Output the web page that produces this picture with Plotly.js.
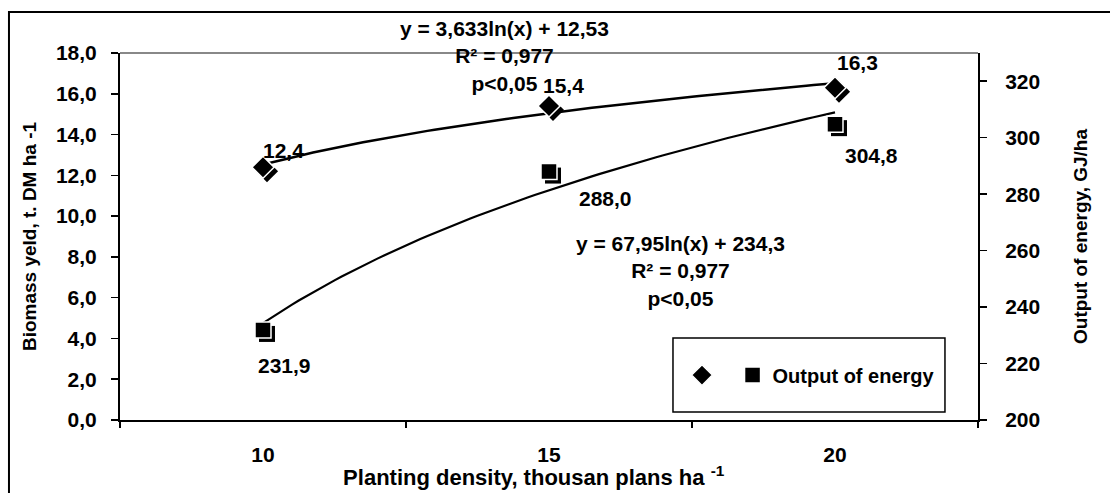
<!DOCTYPE html>
<html>
<head>
<meta charset="utf-8">
<script src="https://cdn.plot.ly/plotly-3.0.1.min.js"></script>
<style>html,body{margin:0;padding:0;background:#fff;}#chart{width:1110px;height:493px;}</style>
</head>
<body>
<div id="chart"></div>
<script>
// ---- data ----
var density = [10, 15, 20];                 // planting density, thousand plants/ha
var densityLabels = ['10', '15', '20'];
var biomassYield = [12.4, 15.4, 16.3];      // t DM/ha (left axis)
var energyOutput = [231.9, 288.0, 304.8];   // GJ/ha (right axis)
var leftTicks = [0, 2, 4, 6, 8, 10, 12, 14, 16, 18];
var rightTicks = [200, 220, 240, 260, 280, 300, 320];
var boundaryTicks = [7.5, 12.5, 17.5, 22.5];
// logarithmic trend lines as printed on the chart: y = a*ln(x) + b, x = category index 1..3
var trendBiomass = [3.633, 12.53];
var trendEnergy = [67.95, 234.3];
var trendBiomassText = ['3,633', '12,53'];
var trendEnergyText = ['67,95', '234,3'];
var r2Text = ['0,977', '0,977'];
var pText = ['p<0,05', 'p<0,05'];

// axis ranges and plot geometry
var xRange = [7.5, 22.5], yRange = [0, 18], y2Range = [200, 330];
var W = 1110, H = 493, M = {l: 120, r: 132, t: 53, b: 73};
var plotW = W - M.l - M.r, plotH = H - M.t - M.b;
var SH = 4; // marker drop-shadow offset in px
function shiftX(r, px) { var d = px * (r[1] - r[0]) / plotW; return [r[0] - d, r[1] - d]; }
function shiftY(r, px) { var d = px * (r[1] - r[0]) / plotH; return [r[0] + d, r[1] + d]; }

function trendCurve(c) {
  var xs = [], yv = [];
  var step = density[1] - density[0];
  for (var k = 0; k <= 80; k++) {
    var d = density[0] + (density[density.length - 1] - density[0]) * k / 80;
    var idx = (d - density[0]) / step + 1;
    xs.push(d); yv.push(c[0] * Math.log(idx) + c[1]);
  }
  return {x: xs, y: yv};
}
var tB = trendCurve(trendBiomass), tE = trendCurve(trendEnergy);

function fmt(v) { return v.toFixed(1).replace('.', ','); }

var FONT = 'Liberation Sans, Arial, sans-serif';
function f(sz) { return {family: FONT, size: sz, color: '#000', weight: 'bold'}; }

var traces = [
  {x: tB.x, y: tB.y, mode: 'lines', line: {color: '#000', width: 2.5}, showlegend: false, hoverinfo: 'skip', xaxis: 'x', yaxis: 'y'},
  {x: tE.x, y: tE.y, mode: 'lines', line: {color: '#000', width: 2.2}, showlegend: false, hoverinfo: 'skip', xaxis: 'x', yaxis: 'y2'},
  {x: density, y: [null, null, null], mode: 'markers', showlegend: false, hoverinfo: 'skip', xaxis: 'x2', yaxis: 'y'},
  // shadows
  {x: density, y: biomassYield, mode: 'markers', showlegend: false, hoverinfo: 'skip', marker: {symbol: 'diamond', size: 17, color: '#000'}, xaxis: 'x3', yaxis: 'y3'},
  {x: density, y: energyOutput, mode: 'markers', showlegend: false, hoverinfo: 'skip', marker: {symbol: 'square', size: 16, color: '#000'}, xaxis: 'x3', yaxis: 'y4'},
  // main markers
  {x: density, y: biomassYield, mode: 'markers', name: ' ', marker: {symbol: 'diamond', size: 17, color: '#000', line: {color: '#fff', width: 1.5}}, xaxis: 'x4', yaxis: 'y5'},
  {x: density, y: energyOutput, mode: 'markers', name: 'Output of energy', marker: {symbol: 'square', size: 16, color: '#000', line: {color: '#fff', width: 1.5}}, xaxis: 'x4', yaxis: 'y6'}
];

var bShift = [[20, 17], [14, 21], [22, 25]];
var eShift = [[21, -36], [56, -27], [36, -31]];
var ann = [];
density.forEach(function (d, i) {
  ann.push({x: d, y: biomassYield[i], xref: 'x', yref: 'y', text: fmt(biomassYield[i]), showarrow: false, font: f(21), xshift: bShift[i][0], yshift: bShift[i][1]});
  ann.push({x: d, y: energyOutput[i], xref: 'x', yref: 'y2', text: fmt(energyOutput[i]), showarrow: false, font: f(21), xshift: eShift[i][0], yshift: eShift[i][1]});
});
ann.push({xref: 'paper', yref: 'paper', x: 0.4487, y: 0.9918, xanchor: 'center', yanchor: 'middle', align: 'center', showarrow: false, font: f(21),
  text: 'y = ' + trendBiomassText[0] + 'ln(x) + ' + trendBiomassText[1] + '<br>R² = ' + r2Text[0] + '<br>' + pText[0]});
ann.push({xref: 'paper', yref: 'paper', x: 0.6538, y: 0.406, xanchor: 'center', yanchor: 'middle', align: 'center', showarrow: false, font: f(21),
  text: 'y = ' + trendEnergyText[0] + 'ln(x) + ' + trendEnergyText[1] + '<br>R² = ' + r2Text[1] + '<br>' + pText[1]});

var hidden = {visible: false, showgrid: false, zeroline: false};
function hid(o) { return Object.assign({}, hidden, o); }

var layout = {
  width: W, height: H,
  margin: {l: M.l, r: M.r, t: M.t, b: M.b, pad: 0},
  paper_bgcolor: '#fff', plot_bgcolor: '#fff',
  separators: ', ',
  font: {family: FONT, size: 20, color: '#000'},
  showlegend: true,
  legend: {orientation: 'h', x: 0.655, xanchor: 'left', y: 0.1226, yanchor: 'middle', bgcolor: 'rgba(0,0,0,0)', borderwidth: 0,
    font: f(20)},
  xaxis: {range: xRange, tickvals: boundaryTicks, ticks: 'outside', ticklen: 6, tickwidth: 1.5, tickcolor: '#000', showticklabels: false,
    showline: true, linecolor: '#000', linewidth: 2, showgrid: false, zeroline: false,
    title: {text: 'Planting density, thousan plans ha <sup>-1</sup>&nbsp;&nbsp;&nbsp;&nbsp;&nbsp;', font: f(22), standoff: 43}},
  xaxis2: {range: xRange, overlaying: 'x', anchor: 'y', side: 'bottom', tickvals: density, ticktext: densityLabels, ticks: '',
    showline: false, showgrid: false, zeroline: false, ticklabelstandoff: 20,
    tickfont: f(21)},
  xaxis3: hid({range: shiftX(xRange, SH), overlaying: 'x', anchor: 'y3'}),
  xaxis4: hid({range: xRange, overlaying: 'x', anchor: 'y5'}),
  yaxis: {range: yRange, tickvals: leftTicks, tickformat: '.1f', ticks: 'outside', ticklen: 7, tickwidth: 1.5, tickcolor: '#000',
    showline: true, linecolor: '#000', linewidth: 2, showgrid: false, zeroline: false, ticklabelstandoff: 10,
    tickfont: f(21),
    title: {text: 'Biomass yeld, t. DM ha -1', font: f(19), standoff: 14}},
  yaxis2: {range: y2Range, tickvals: rightTicks, overlaying: 'y', side: 'right', anchor: 'x', ticks: 'outside', ticklen: 7, tickwidth: 1.5, tickcolor: '#000',
    showline: true, linecolor: '#000', linewidth: 2, showgrid: false, zeroline: false, ticklabelstandoff: 14,
    tickfont: f(21),
    title: {text: 'Output of energy, GJ/ha', font: f(19), standoff: 34}},
  yaxis3: hid({range: shiftY(yRange, SH), overlaying: 'y', anchor: 'x3'}),
  yaxis4: hid({range: shiftY(y2Range, SH), overlaying: 'y', anchor: 'x3'}),
  yaxis5: hid({range: yRange, overlaying: 'y', anchor: 'x4'}),
  yaxis6: hid({range: y2Range, overlaying: 'y', anchor: 'x4'}),
  shapes: [
    {type: 'line', xref: 'paper', yref: 'paper', x0: 0, x1: 1, y0: 1, y1: 1, line: {color: '#888', width: 2}},
    {type: 'rect', xref: 'paper', yref: 'paper', x0: 0.6445, x1: 0.9615, y0: 0.0218, y1: 0.2234, line: {color: '#000', width: 1.5}},
    {type: 'rect', xref: 'paper', yref: 'paper', x0: -0.1294, x1: 1.3, y0: -0.3, y1: 1.1117, line: {color: '#000', width: 2}}
  ],
  annotations: ann
};

Plotly.newPlot('chart', traces, layout, {displayModeBar: false, staticPlot: true});
</script>
</body>
</html>
